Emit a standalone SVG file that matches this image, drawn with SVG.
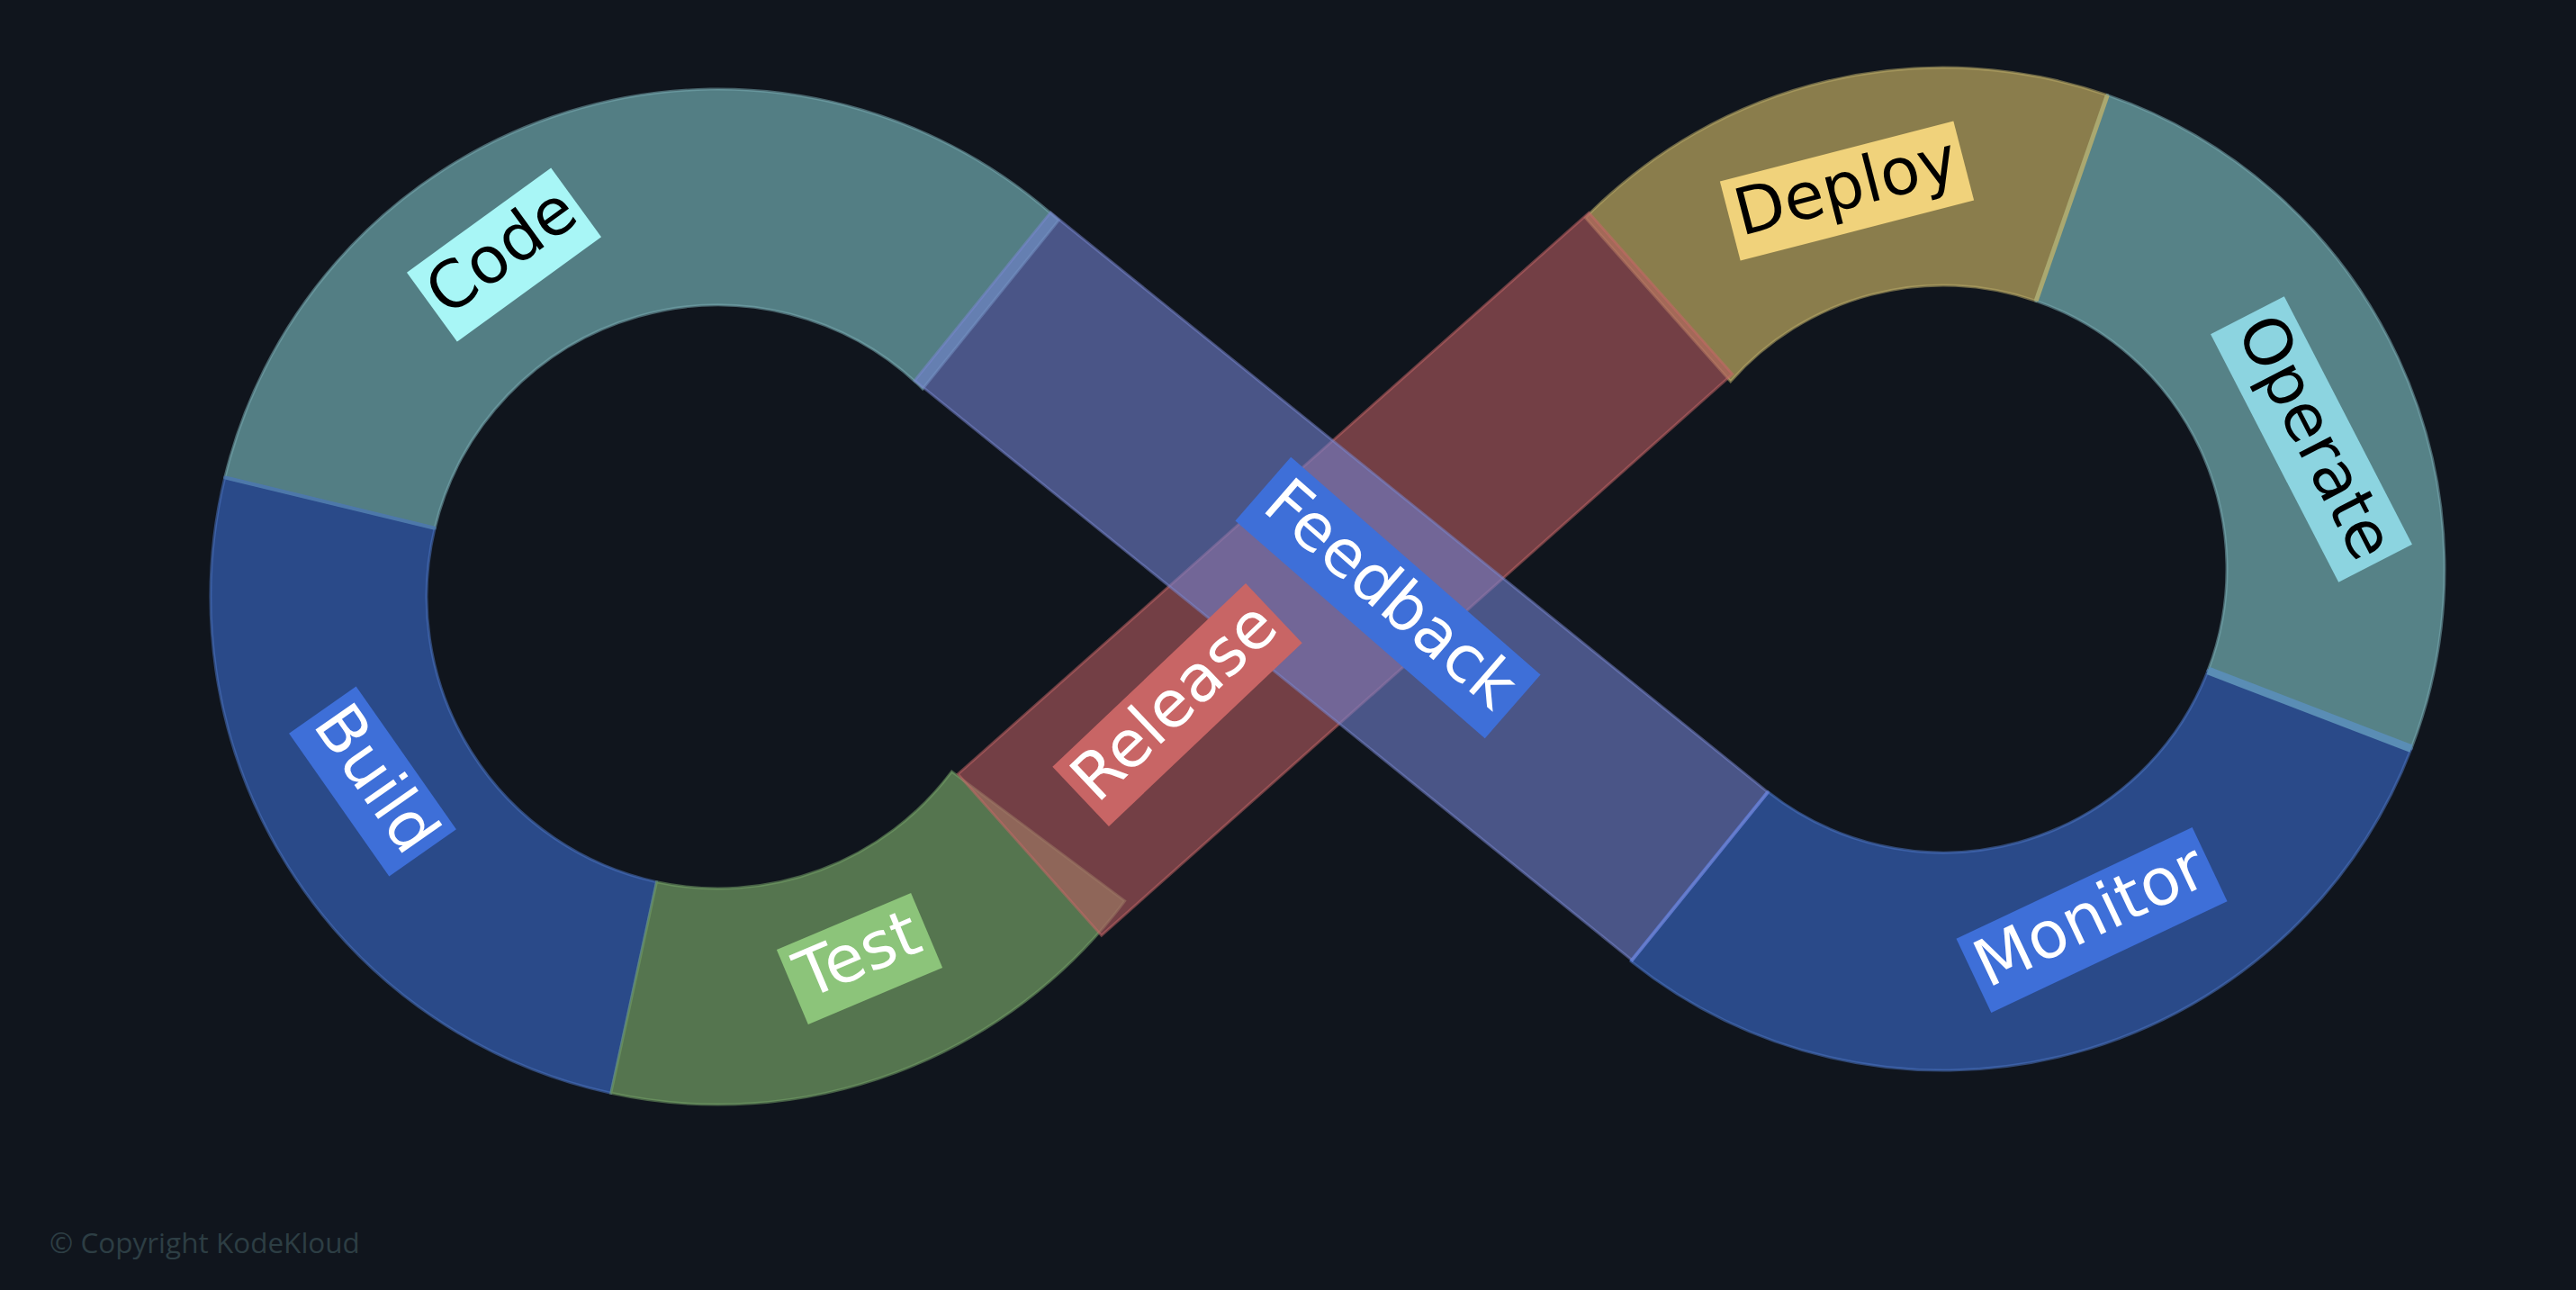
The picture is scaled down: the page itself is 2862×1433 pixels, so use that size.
<svg xmlns="http://www.w3.org/2000/svg" width="2862" height="1433" viewBox="0 0 2862 1433">
  <style>
    .seg { stroke-width: 3; stroke-opacity: 0.55; }
    .band { stroke-width: 3; stroke-opacity: 0.5; }
    .seam { fill: none; stroke-linecap: butt; }
    .lbl { font-family: "DejaVu Sans", "Liberation Sans", sans-serif; font-size: 72px; text-anchor: middle; }
    .dark { fill: #000000; }
    .light { fill: #ffffff; }
    .copy { font-family: "Open Sans", "Liberation Sans", sans-serif; font-size: 31.5px; fill: #2d3e44; }
  </style>
  <rect x="0" y="0" width="2862" height="1433" fill="#10151d"/>

  <!-- Left loop -->
  <g id="code">
    <path class="seg" fill="#537e84" stroke="#78aab0" d="M 249.8 530.4 A 564 564 0 0 1 1176.3 244.7 L 1025.1 431.9 A 324 324 0 0 0 483.1 586.8 Z"/>
  </g>
  <g id="build">
    <path class="seg" fill="#2a4a89" stroke="#4a72c0" d="M 678.8 1214.3 A 564 564 0 0 1 249.8 530.4 L 483.1 586.8 A 324 324 0 0 0 729.5 979.7 Z"/>
  </g>
  <g id="test">
    <path class="seg" fill="#55754f" stroke="#74a068" d="M 1249.6 1000.8 A 564 564 0 0 1 678.8 1214.3 L 729.5 979.7 A 324 324 0 0 0 1057.4 857.1 Z"/>
  </g>

  <!-- Right loop -->
  <g id="deploy">
    <path class="seg" fill="#8a7d4c" stroke="#b8aa68" d="M 1761.4 241.9 A 557 557 0 0 1 2341.3 105.7 L 2262.1 334.3 A 315 315 0 0 0 1922.7 423.8 Z"/>
  </g>
  <g id="operate">
    <path class="seg" fill="#568287" stroke="#78aab0" d="M 2341.3 105.7 A 557 557 0 0 1 2679.0 831.6 L 2453.1 744.9 A 315 315 0 0 0 2262.1 334.3 Z"/>
  </g>
  <g id="monitor">
    <path class="seg" fill="#2a4a89" stroke="#4a72c0" d="M 2679.0 831.6 A 557 557 0 0 1 1812.1 1067.8 L 1964.3 879.6 A 315 315 0 0 0 2453.1 744.9 Z"/>
  </g>

  <!-- seams between neighbouring segments -->
  <g id="seams">
    <line class="seam" x1="249.8" y1="530.4" x2="483.1" y2="586.8" stroke="#4d78aa" stroke-width="4"/>
    <line class="seam" x1="2341.3" y1="105.7" x2="2262.1" y2="334.3" stroke="#aaa870" stroke-width="5"/>
    <line class="seam" x1="2679.0" y1="831.6" x2="2453.1" y2="744.9" stroke="#5a8db5" stroke-width="9"/>
    <line class="seam" x1="1812.1" y1="1067.8" x2="1964.3" y2="879.6" stroke="#3d66c4" stroke-width="4"/>
  </g>

  <!-- Crossing bands -->
  <g id="release">
    <polygon class="band" fill="#b55b60" fill-opacity="0.6" stroke="#c86868" points="1064.3,859.9 1765.3,236.3 1924.8,415.6 1223.8,1039.2"/>
  </g>
  <g id="feedback">
    <polygon class="band" fill="#7280ce" fill-opacity="0.6" stroke="#7a88d0" points="1167.1,236.0 1964.4,880.2 1813.5,1066.9 1016.2,422.7"/>
  </g>

  <!-- Labels -->
  <g id="labels">
    <g id="code-label" transform="translate(560 283) rotate(-36)">
      <rect x="-99" y="-47.5" width="198" height="95" fill="#a8f6f6"/>
      <text class="lbl dark" x="0" y="19">Code</text>
    </g>
    <g id="build-label" transform="translate(414 868) rotate(55)">
      <rect x="-97" y="-45.5" width="194" height="91" fill="#3e6fd8"/>
      <text class="lbl light" x="0" y="19">Build</text>
    </g>
    <g id="test-label" transform="translate(955 1065) rotate(-22.9)">
      <rect x="-81" y="-45" width="162" height="90" fill="#8cc47a"/>
      <text class="lbl light" x="0" y="19">Test</text>
    </g>
    <g id="release-label" transform="translate(1308 783) rotate(-43.5)">
      <rect x="-148" y="-45.5" width="296" height="91" fill="#c86565"/>
      <text class="lbl light" x="0" y="19">Release</text>
    </g>
    <g id="feedback-label" transform="translate(1542 664) rotate(41.1)">
      <rect x="-184" y="-47" width="368" height="94" fill="#3e6fd8"/>
      <text class="lbl light" x="0" y="19">Feedback</text>
    </g>
    <g id="deploy-label" transform="translate(2052 212) rotate(-14.5)">
      <rect x="-134" y="-45.5" width="268" height="91" fill="#f0d27b"/>
      <text class="lbl dark" x="0" y="19">Deploy</text>
    </g>
    <g id="operate-label" transform="translate(2568 488) rotate(62.7)">
      <rect x="-155" y="-46" width="310" height="92" fill="#8cd4e0"/>
      <text class="lbl dark" x="0" y="19">Operate</text>
    </g>
    <g id="monitor-label" transform="translate(2324 1022) rotate(-25.3)">
      <rect x="-145" y="-45.5" width="290" height="91" fill="#3e6fd8"/>
      <text class="lbl light" x="0" y="19">Monitor</text>
    </g>
  </g>

  <text class="copy" x="55" y="1392">© Copyright KodeKloud</text>
</svg>
